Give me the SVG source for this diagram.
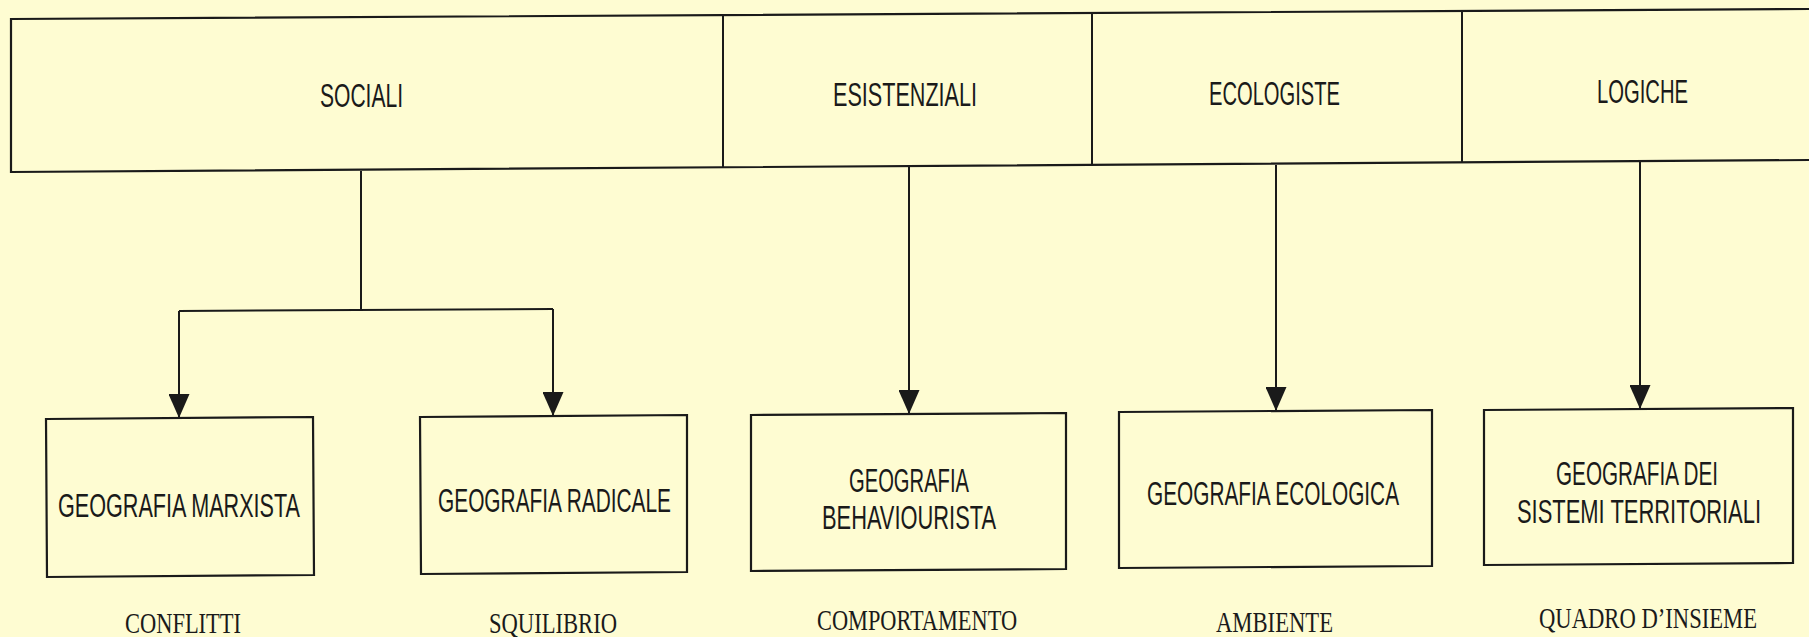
<svg xmlns="http://www.w3.org/2000/svg" width="1809" height="637" viewBox="0 0 1809 637">
<style>
.bg{fill:#FEFCD2}
.box{fill:none;stroke:#1a1a1a;stroke-width:2.2;stroke-linejoin:miter}
.div{stroke:#1a1a1a;stroke-width:2}
.con{fill:none;stroke:#1a1a1a;stroke-width:2}
.lbl{font-family:"Liberation Sans",Arial,sans-serif;font-size:33px;fill:#1a1a1a;text-anchor:middle}
.sub{font-family:"Liberation Serif","Times New Roman",serif;font-size:30px;fill:#1a1a1a;text-anchor:middle}
</style>
<defs>
<marker id="arr" viewBox="0 0 24 21" refX="24" refY="10.5" markerWidth="24" markerHeight="21" markerUnits="userSpaceOnUse" orient="auto">
<path d="M0,0 L24,10.5 L0,21 Z" fill="#1a1a1a"/>
</marker>
</defs>
<rect class="bg" x="0" y="0" width="1809" height="637"/>

<g id="top-bar">
<polygon class="box" points="11,19 1812,9 1812,160 11,172"/>
<line class="div" x1="723" y1="15" x2="723" y2="168"/>
<line class="div" x1="1092" y1="13" x2="1092" y2="165"/>
<line class="div" x1="1462" y1="11" x2="1462" y2="163"/>
</g>
<g id="sociali"><text class="lbl" transform="translate(361.5,107) scale(0.64,1)" x="0" y="0" textLength="129.7" lengthAdjust="spacingAndGlyphs">SOCIALI</text></g>
<g id="esistenziali"><text class="lbl" transform="translate(905,106) scale(0.64,1)" x="0" y="0" textLength="225" lengthAdjust="spacingAndGlyphs">ESISTENZIALI</text></g>
<g id="ecologiste"><text class="lbl" transform="translate(1274.5,105) scale(0.64,1)" x="0" y="0" textLength="204.7" lengthAdjust="spacingAndGlyphs">ECOLOGISTE</text></g>
<g id="logiche"><text class="lbl" transform="translate(1642.5,103) scale(0.64,1)" x="0" y="0" textLength="142.2" lengthAdjust="spacingAndGlyphs">LOGICHE</text></g>

<g id="connectors">
<path class="con" d="M361,171 L361,310"/>
<path class="con" d="M179,311 L553,309"/>
<path class="con" d="M179,311 L179,418" marker-end="url(#arr)"/>
<path class="con" d="M553,309 L553,416" marker-end="url(#arr)"/>
<path class="con" d="M909,167 L909,414" marker-end="url(#arr)"/>
<path class="con" d="M1276,165 L1276,411" marker-end="url(#arr)"/>
<path class="con" d="M1640,162 L1640,409" marker-end="url(#arr)"/>
</g>

<g id="marxista">
<polygon class="box" points="46,419 313,417 314,575 47,577"/>
<text class="lbl" transform="translate(179,517) scale(0.64,1)" x="0" y="0" textLength="378.1" lengthAdjust="spacingAndGlyphs">GEOGRAFIA MARXISTA</text>
<text class="sub" transform="translate(183,633) scale(0.75,1)" x="0" y="0" textLength="154.7" lengthAdjust="spacingAndGlyphs">CONFLITTI</text>
</g>
<g id="radicale">
<polygon class="box" points="420,417 687,415 687,572 421,574"/>
<text class="lbl" transform="translate(554.5,512) scale(0.64,1)" x="0" y="0" textLength="364.1" lengthAdjust="spacingAndGlyphs">GEOGRAFIA RADICALE</text>
<text class="sub" transform="translate(553,633) scale(0.75,1)" x="0" y="0" textLength="170.7" lengthAdjust="spacingAndGlyphs">SQUILIBRIO</text>
</g>
<g id="behaviourista">
<polygon class="box" points="751,415 1066,413 1066,569 751,571"/>
<text class="lbl" transform="translate(909,492) scale(0.64,1)" x="0" y="0" textLength="187.5" lengthAdjust="spacingAndGlyphs">GEOGRAFIA</text>
<text class="lbl" transform="translate(909,529) scale(0.64,1)" x="0" y="0" textLength="271.9" lengthAdjust="spacingAndGlyphs">BEHAVIOURISTA</text>
<text class="sub" transform="translate(917,630) scale(0.75,1)" x="0" y="0" textLength="266.7" lengthAdjust="spacingAndGlyphs">COMPORTAMENTO</text>
</g>
<g id="ecologica">
<polygon class="box" points="1119,412 1432,410 1432,566 1119,568"/>
<text class="lbl" transform="translate(1273,505) scale(0.64,1)" x="0" y="0" textLength="393.75" lengthAdjust="spacingAndGlyphs">GEOGRAFIA ECOLOGICA</text>
<text class="sub" transform="translate(1274.5,632) scale(0.75,1)" x="0" y="0" textLength="156" lengthAdjust="spacingAndGlyphs">AMBIENTE</text>
</g>
<g id="sistemi">
<polygon class="box" points="1484,410 1793,408 1793,563 1484,565"/>
<text class="lbl" transform="translate(1637,485) scale(0.64,1)" x="0" y="0" textLength="253.1" lengthAdjust="spacingAndGlyphs">GEOGRAFIA DEI</text>
<text class="lbl" transform="translate(1639,523) scale(0.64,1)" x="0" y="0" textLength="381.25" lengthAdjust="spacingAndGlyphs">SISTEMI TERRITORIALI</text>
<text class="sub" transform="translate(1648,628) scale(0.75,1)" x="0" y="0" textLength="290.7" lengthAdjust="spacingAndGlyphs">QUADRO D’INSIEME</text>
</g>
</svg>
